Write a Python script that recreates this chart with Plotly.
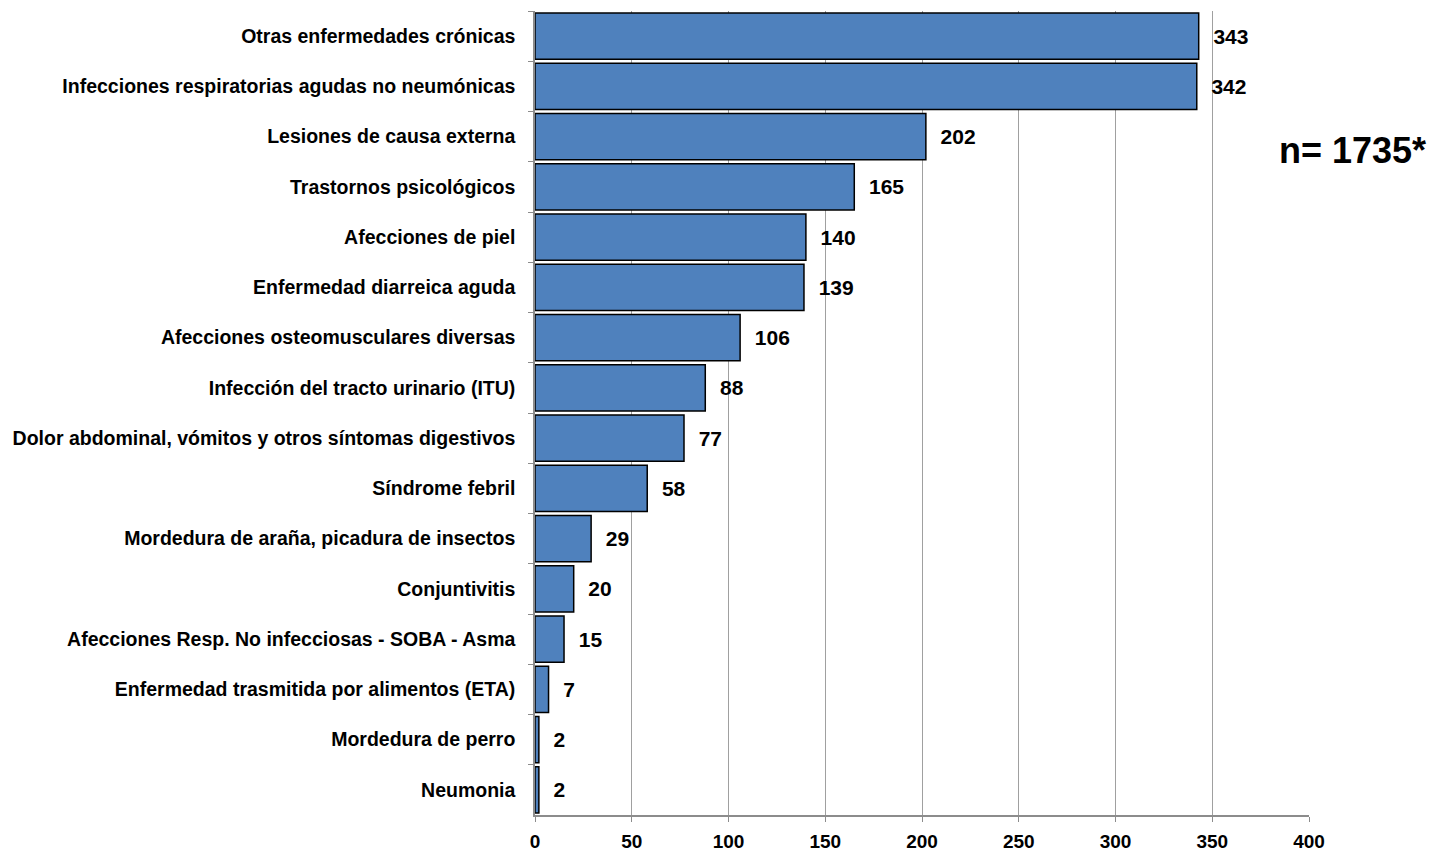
import plotly.graph_objects as go

categories = [
    "Otras enfermedades crónicas",
    "Infecciones respiratorias agudas no neumónicas",
    "Lesiones de causa externa",
    "Trastornos psicológicos",
    "Afecciones de piel",
    "Enfermedad diarreica aguda",
    "Afecciones osteomusculares diversas",
    "Infección del tracto urinario (ITU)",
    "Dolor abdominal, vómitos y otros síntomas digestivos",
    "Síndrome febril",
    "Mordedura de araña, picadura de insectos",
    "Conjuntivitis",
    "Afecciones Resp. No infecciosas - SOBA - Asma",
    "Enfermedad trasmitida por alimentos (ETA)",
    "Mordedura de perro",
    "Neumonia",
]
values = [343, 342, 202, 165, 140, 139, 106, 88, 77, 58, 29, 20, 15, 7, 2, 2]
x_ticks = [0, 50, 100, 150, 200, 250, 300, 350, 400]
note = "n= 1735*"

FONT = "Liberation Sans"

fig = go.Figure(go.Bar(
    y=categories,
    x=values,
    orientation="h",
    marker=dict(color="#4F81BD", line=dict(color="black", width=1.5)),
    text=["  " + str(v) for v in values],
    textposition="outside",
    cliponaxis=False,
    textfont=dict(family=FONT, size=21, color="black", weight="bold"),
))

# page body has an 8px margin, so the figure is sized/offset to compensate
fig.update_layout(
    width=1431, height=844,
    margin=dict(l=527, r=130, t=3, b=37, autoexpand=False),
    paper_bgcolor="white", plot_bgcolor="white",
    bargap=0.08,
    showlegend=False,
    font=dict(family=FONT, color="black"),
    annotations=[dict(
        text=note, xref="paper", yref="paper", x=1.154, y=0.827,
        xanchor="right", yanchor="middle", showarrow=False,
        font=dict(family=FONT, size=36, color="black", weight="bold"),
    )],
)
fig.update_xaxes(
    range=[0, 400], tickvals=x_ticks, automargin=False,
    showgrid=True, gridcolor="#A0A0A0", gridwidth=1,
    showline=True, linecolor="#8C8C8C", linewidth=1.5,
    ticks="outside", ticklen=5, tickcolor="#8C8C8C",
    ticklabelstandoff=3,
    tickfont=dict(family=FONT, size=19, color="black", weight="bold"),
    zeroline=False,
)
fig.update_yaxes(
    autorange="reversed", automargin=False,
    categoryorder="array", categoryarray=categories,
    showline=True, linecolor="#8C8C8C", linewidth=1.5,
    ticks="outside", ticklen=5, tickcolor="#8C8C8C", tickson="boundaries",
    ticklabelstandoff=14,
    tickfont=dict(family=FONT, size=19.5, color="black", weight="bold"),
)

fig.write_html("out.html")
